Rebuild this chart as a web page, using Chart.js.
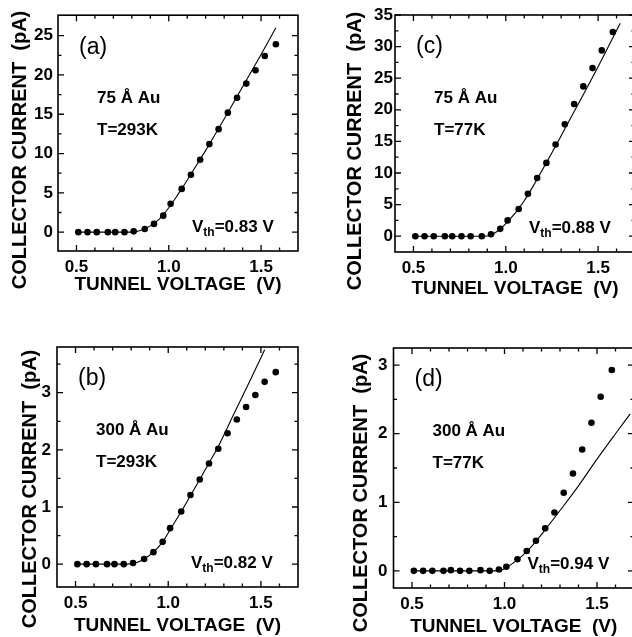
<!DOCTYPE html>
<html>
<head>
<meta charset="utf-8">
<script src="https://cdn.jsdelivr.net/npm/chart.js@4.4.0/dist/chart.umd.min.js"></script>
<style>
html, body { margin: 0; padding: 0; background: #fff; overflow: hidden; }
body { width: 632px; height: 637px; position: relative; }
canvas { position: absolute; }
</style>
</head>
<body>
<canvas id="chartA" width="316" height="316" style="left:0px;top:0px"></canvas>
<canvas id="chartC" width="330" height="316" style="left:316px;top:0px"></canvas>
<canvas id="chartB" width="316" height="321" style="left:0px;top:316px"></canvas>
<canvas id="chartD" width="330" height="321" style="left:316px;top:316px"></canvas>
<script>
// tunnel voltage sweep (V), same for all four runs
const voltages = [0.51, 0.56, 0.61, 0.67, 0.71, 0.76, 0.81, 0.87, 0.92, 0.97, 1.01, 1.07, 1.12, 1.17, 1.22, 1.27, 1.32, 1.37, 1.42, 1.47, 1.52, 1.58];

// collector current (pA), measured points
const currentA = [0, 0, 0, 0, 0, 0, 0.1, 0.4, 1.05, 2.1, 3.6, 5.5, 7.3, 9.2, 11.2, 13.1, 15.2, 17.1, 18.9, 20.6, 22.4, 23.9];
const currentC = [0, 0, 0, 0, 0, 0, 0, 0, 0.3, 1.16, 2.5, 4.3, 6.7, 9.2, 11.6, 14.5, 17.7, 20.9, 23.7, 26.6, 29.4, 32.3];
const currentB = [0, 0, 0, 0, 0, 0, 0.02, 0.09, 0.21, 0.39, 0.63, 0.92, 1.21, 1.48, 1.76, 2.02, 2.29, 2.53, 2.75, 2.96, 3.19, 3.36];
const currentD = [0, 0, 0, 0, 0.01, 0, 0, 0.01, 0, 0.02, 0.06, 0.17, 0.29, 0.44, 0.62, 0.85, 1.14, 1.42, 1.77, 2.16, 2.54, 2.93];

// fitted curves
const fitVoltA = [0.51, 0.80, 0.85, 0.90, 0.95, 1.00, 1.05, 1.10, 1.15, 1.20, 1.25, 1.30, 1.40, 1.50, 1.58];
const fitCurrA = [0, 0, 0.25, 0.8, 1.7, 3.1, 4.8, 6.6, 8.5, 10.4, 12.4, 14.4, 18.5, 22.6, 26.0];
const fitVoltC = [0.51, 0.88, 0.92, 0.96, 1.00, 1.05, 1.10, 1.15, 1.20, 1.25, 1.30, 1.40, 1.50, 1.62];
const fitCurrC = [0, 0, 0.2, 0.9, 2.0, 3.6, 5.6, 8.0, 10.6, 13.2, 15.9, 21.3, 26.8, 33.7];
const fitVoltB = [0.51, 0.78, 0.83, 0.87, 0.92, 0.97, 1.01, 1.07, 1.12, 1.17, 1.22, 1.27, 1.35, 1.45, 1.52];
const fitCurrB = [0, 0, 0.03, 0.09, 0.21, 0.39, 0.6, 0.92, 1.2, 1.48, 1.77, 2.06, 2.6, 3.27, 3.75];
const fitVoltD = [0.51, 0.97, 1.01, 1.07, 1.12, 1.17, 1.22, 1.30, 1.40, 1.50, 1.60, 1.68];
const fitCurrD = [0, 0, 0.05, 0.16, 0.28, 0.43, 0.6, 0.88, 1.24, 1.63, 2.0, 2.29];

// axis ticks
const xTickValues = [0.5, 1.0, 1.5];
const xTickLabels = ['0.5', '1.0', '1.5'];
const xMinorTicks = [0.6, 0.7, 0.8, 0.9, 1.1, 1.2, 1.3, 1.4, 1.6];
const yTicksA = [0, 5, 10, 15, 20, 25];
const yMinorA = [2.5, 7.5, 12.5, 17.5, 22.5];
const yTicksC = [0, 5, 10, 15, 20, 25, 30, 35];
const yMinorC = [2.5, 7.5, 12.5, 17.5, 22.5, 27.5, 32.5];
const yTicksBD = [0, 1, 2, 3];
const yMinorBD = [0.5, 1.5, 2.5, 3.5];

const xTitle = 'TUNNEL VOLTAGE  (V)';
const yTitle = 'COLLECTOR CURRENT  (pA)';

const FONT = '"Liberation Sans", Arial, sans-serif';

function xy(xs, ys) {
    return xs.map((x, i) => ({ x: x, y: ys[i] }));
}

const framePlugin = {
    id: 'frame',
    afterDraw(chart) {
        const ctx = chart.ctx;
        const a = chart.chartArea;
        const xs = chart.scales.x, ys = chart.scales.y;
        const o = chart.config.options.plugins.frame;
        ctx.save();
        ctx.strokeStyle = '#000';
        ctx.lineWidth = 1.6;
        ctx.strokeRect(a.left, a.top, a.right - a.left, a.bottom - a.top);
        ctx.lineWidth = 1.3;
        ctx.beginPath();
        function xt(v, len) {
            const p = xs.getPixelForValue(v);
            ctx.moveTo(p, a.bottom); ctx.lineTo(p, a.bottom - len);
            ctx.moveTo(p, a.top); ctx.lineTo(p, a.top + len);
        }
        function yt(v, len) {
            const p = ys.getPixelForValue(v);
            ctx.moveTo(a.left, p); ctx.lineTo(a.left + len, p);
            ctx.moveTo(a.right, p); ctx.lineTo(a.right - len, p);
        }
        xTickValues.forEach(v => xt(v, 6));
        xMinorTicks.forEach(v => xt(v, 3.5));
        o.yTicks.forEach(v => yt(v, 6));
        o.yMinor.forEach(v => { if (v < ys.max) yt(v, 3.5); });
        ctx.stroke();

        ctx.fillStyle = '#000';

        // y axis title, centred a bit below the frame centre like the original
        ctx.save();
        ctx.translate(o.yTitleX, o.yTitleY);
        ctx.rotate(-Math.PI / 2);
        ctx.textAlign = 'center';
        ctx.textBaseline = 'middle';
        ctx.font = 'bold 20px ' + FONT;
        ctx.fillText(yTitle, 0, 0);
        ctx.restore();

        // annotations
        ctx.textBaseline = 'middle';
        ctx.textAlign = 'left';
        ctx.font = '23px ' + FONT;
        ctx.fillText(o.label, a.left + 21, a.top + 32);
        ctx.font = 'bold 17px ' + FONT;
        ctx.fillText(o.sample, a.left + 39, a.top + 83);
        ctx.fillText(o.temp, a.left + 39, a.top + 115);
        let vx = a.left + 134;
        const vy = a.bottom - 24;
        ctx.fillText('V', vx, vy);
        vx += ctx.measureText('V').width;
        ctx.font = 'bold 12px ' + FONT;
        ctx.fillText('th', vx, vy + 6);
        vx += ctx.measureText('th').width;
        ctx.font = 'bold 17px ' + FONT;
        ctx.fillText('=' + o.vth + ' V', vx, vy);
        ctx.restore();
    }
};

function makeChart(id, p) {
    const canvas = document.getElementById(id);
    const W = canvas.width, H = canvas.height;
    const half = 19 * 1.2 / 2;
    const padLeft = 4;
    const padBottom = H - p.xTitleY - half;
    new Chart(canvas, {
        type: 'scatter',
        data: {
            datasets: [
                {
                    data: xy(p.fitX, p.fitY),
                    showLine: true,
                    borderColor: '#000',
                    borderWidth: 1.1,
                    pointRadius: 0,
                    cubicInterpolationMode: 'monotone',
                    order: 2
                },
                {
                    data: xy(voltages, p.dots),
                    showLine: false,
                    pointRadius: 3.3,
                    pointBackgroundColor: '#000',
                    pointBorderWidth: 0,
                    order: 1
                }
            ]
        },
        options: {
            responsive: false,
            animation: false,
            devicePixelRatio: 1,
            layout: { padding: { left: padLeft, top: p.frameT, right: W - p.frameR, bottom: padBottom } },
            plugins: {
                legend: { display: false },
                tooltip: { enabled: false },
                frame: {
                    yTicks: p.yTicks, yMinor: p.yMinor, label: p.label, sample: p.sample, temp: p.temp, vth: p.vth,
                    yTitleX: p.yTitleX, yTitleY: p.yTitleY
                }
            },
            scales: {
                x: {
                    type: 'linear',
                    min: 0.4,
                    max: 1.7,
                    grid: { display: false, drawTicks: false, tickLength: 0 },
                    border: { display: false },
                    afterBuildTicks: s => { s.ticks = xTickValues.map(v => ({ value: v })); },
                    afterFit: s => { s.height = H - padBottom - p.frameB; },
                    ticks: {
                        padding: p.xTickPad,
                        color: '#000',
                        font: { family: FONT, size: 17, weight: 'bold' },
                        maxRotation: 0,
                        callback: v => xTickLabels[xTickValues.indexOf(v)]
                    },
                    title: {
                        display: true,
                        text: xTitle,
                        color: '#000',
                        padding: 0,
                        font: { family: FONT, size: 19, weight: 'bold', lineHeight: 1.2 }
                    }
                },
                y: {
                    type: 'linear',
                    min: p.yMin,
                    max: p.yMax,
                    grid: { display: false, drawTicks: false, tickLength: 0 },
                    border: { display: false },
                    afterBuildTicks: s => { s.ticks = p.yTicks.map(v => ({ value: v })); },
                    afterFit: s => { s.width = p.frameL - padLeft; },
                    ticks: {
                        padding: p.yTickPad,
                        color: '#000',
                        font: { family: FONT, size: 17, weight: 'bold' },
                        callback: v => String(v)
                    },
                    title: { display: false }
                }
            }
        },
        plugins: [framePlugin]
    });
}

makeChart('chartA', {
    dots: currentA, fitX: fitVoltA, fitY: fitCurrA,
    yMin: -2.4, yMax: 27.6, yTicks: yTicksA, yMinor: yMinorA,
    frameL: 58, frameT: 14, frameR: 298, frameB: 251,
    yTitleX: 20.5, yTitleY: 150, xTitleY: 285, yTickPad: 5, xTickPad: 6,
    label: '(a)', sample: '75 Å Au', temp: 'T=293K', vth: '0.83'
});
makeChart('chartC', {
    dots: currentC, fitX: fitVoltC, fitY: fitCurrC,
    yMin: -2.5, yMax: 35, yTicks: yTicksC, yMinor: yMinorC,
    frameL: 79, frameT: 15, frameR: 319, frameB: 252,
    yTitleX: 39, yTitleY: 151, xTitleY: 289, yTickPad: 2, xTickPad: 6,
    label: '(c)', sample: '75 Å Au', temp: 'T=77K', vth: '0.88'
});
makeChart('chartB', {
    dots: currentB, fitX: fitVoltB, fitY: fitCurrB,
    yMin: -0.4, yMax: 3.8, yTicks: yTicksBD, yMinor: yMinorBD,
    frameL: 57, frameT: 31, frameR: 298, frameB: 271,
    yTitleX: 30.5, yTitleY: 173, xTitleY: 310, yTickPad: 6, xTickPad: 6,
    label: '(b)', sample: '300 Å Au', temp: 'T=293K', vth: '0.82'
});
makeChart('chartD', {
    dots: currentD, fitX: fitVoltD, fitY: fitCurrD,
    yMin: -0.25, yMax: 3.25, yTicks: yTicksBD, yMinor: yMinorBD,
    frameL: 77.5, frameT: 32, frameR: 318, frameB: 272,
    yTitleX: 45.5, yTitleY: 177, xTitleY: 311, yTickPad: 6, xTickPad: 6,
    label: '(d)', sample: '300 Å Au', temp: 'T=77K', vth: '0.94'
});
</script>
</body>
</html>
